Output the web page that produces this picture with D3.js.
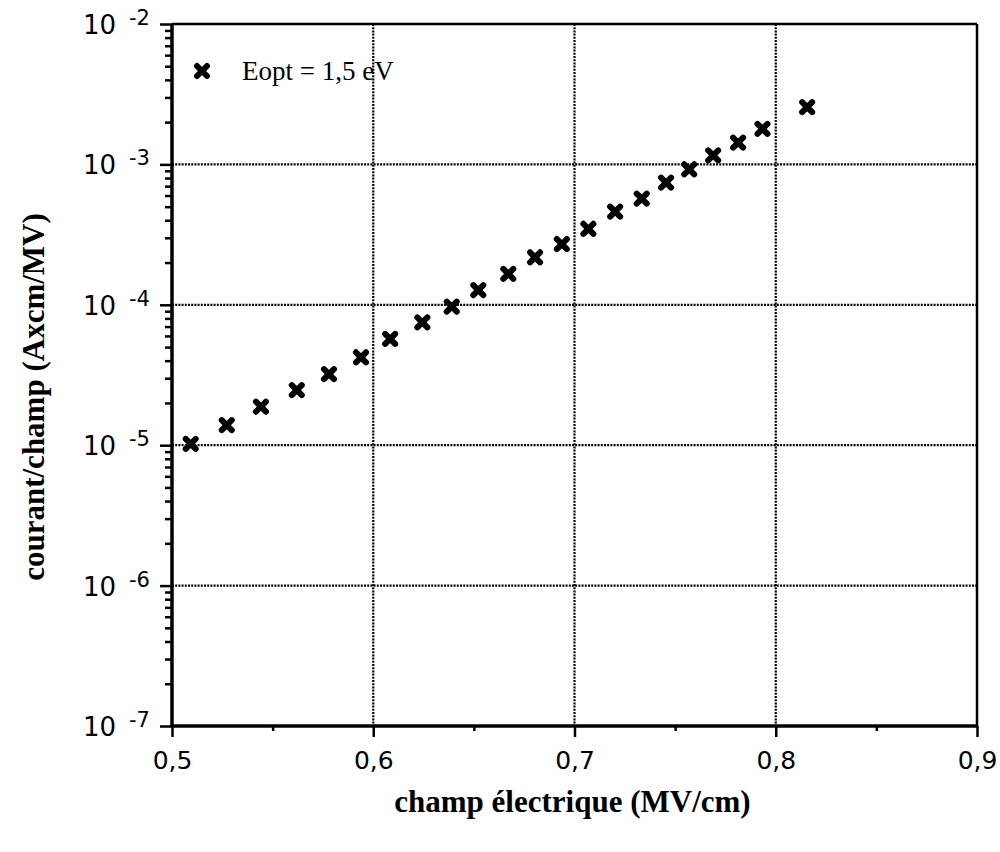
<!DOCTYPE html>
<html>
<head>
<meta charset="utf-8">
<script src="https://cdn.jsdelivr.net/npm/d3@7"></script>
<style>
  body { margin: 0; background: #fff; }
  svg { display: block; }
</style>
</head>
<body>
<div id="chart"></div>
<script>
const width = 1000;
const height = 852;
const margin = { top: 24, right: 23, bottom: 126, left: 172 };
const innerWidth = width - margin.left - margin.right;
const innerHeight = height - margin.top - margin.bottom;

// champ électrique (MV/cm)
const champ = [0.5093, 0.5272, 0.5442, 0.5620, 0.5780, 0.5939, 0.6084, 0.6244,
  0.6390, 0.6522, 0.6671, 0.6804, 0.6937, 0.7069, 0.7202, 0.7334, 0.7455,
  0.7570, 0.7689, 0.7813, 0.7934, 0.8156];
// courant/champ (Axcm/MV)
const courant = [1.02e-5, 1.39e-5, 1.88e-5, 2.47e-5, 3.21e-5, 4.23e-5, 5.71e-5,
  7.50e-5, 9.69e-5, 1.27e-4, 1.66e-4, 2.18e-4, 2.71e-4, 3.48e-4, 4.61e-4,
  5.70e-4, 7.41e-4, 9.23e-4, 1.16e-3, 1.43e-3, 1.79e-3, 2.56e-3];

const xTicks = [0.5, 0.6, 0.7, 0.8, 0.9];
const xMinor = [0.55, 0.65, 0.75, 0.85];
const yExponents = [-2, -3, -4, -5, -6, -7];
const legendLabel = "Eopt = 1,5 eV";

const points = champ.map((c, i) => ({ x: c, y: courant[i] }));

const x = d3.scaleLinear().domain([0.5, 0.9]).range([0, innerWidth]);
const y = d3.scaleLog().domain([1e-7, 1e-2]).range([innerHeight, 0]);

const yMinor = [];
for (let e = -7; e < -2; e++) {
  for (let k = 2; k <= 9; k++) yMinor.push(k * Math.pow(10, e));
}

const sans = "DejaVu Sans, Verdana, sans-serif";
const serif = "Liberation Serif, Times New Roman, serif";

const svg = d3.select("#chart").append("svg")
  .attr("width", width)
  .attr("height", height);

const g = svg.append("g")
  .attr("transform", `translate(${margin.left},${margin.top})`);

// dotted grid lines
const grid = g.append("g")
  .attr("stroke", "#000")
  .attr("stroke-width", 2.2)
  .attr("stroke-dasharray", "2,1.2");

grid.selectAll("line.vx")
  .data(xTicks.slice(1, -1))
  .join("line")
  .attr("class", "vx")
  .attr("x1", d => x(d)).attr("x2", d => x(d))
  .attr("y1", 0).attr("y2", innerHeight);

grid.selectAll("line.hy")
  .data(yExponents.slice(1, -1).map(e => Math.pow(10, e)))
  .join("line")
  .attr("class", "hy")
  .attr("x1", 0).attr("x2", innerWidth)
  .attr("y1", d => y(d)).attr("y2", d => y(d));

// x axis, major + minor ticks
const xAxis = g.append("g")
  .attr("transform", `translate(0,${innerHeight})`)
  .call(d3.axisBottom(x).tickValues(xTicks).tickSize(11).tickPadding(14)
    .tickFormat(d => d3.format(".1f")(d).replace(".", ",")));
g.append("g")
  .attr("transform", `translate(0,${innerHeight})`)
  .call(d3.axisBottom(x).tickValues(xMinor).tickSize(5).tickFormat(""))
  .call(a => a.select(".domain").remove());

xAxis.select(".domain").remove();
xAxis.selectAll("text")
  .attr("font-family", sans)
  .attr("font-size", 25)
  .attr("fill", "#000");

// y axis, major + minor ticks
const yAxis = g.append("g")
  .call(d3.axisLeft(y).tickValues(yExponents.map(e => Math.pow(10, e)))
    .tickSize(12).tickFormat(""));
yAxis.select(".domain").remove();
g.append("g")
  .call(d3.axisLeft(y).tickValues(yMinor).tickSize(7).tickFormat(""))
  .call(a => a.select(".domain").remove());

g.selectAll(".tick line").attr("stroke", "#000").attr("stroke-width", 2.5);

// "10 -n" labels
const yLabels = g.append("g")
  .attr("font-family", sans)
  .attr("fill", "#000");
const lab = yLabels.selectAll("g")
  .data(yExponents)
  .join("g")
  .attr("transform", d => `translate(0,${y(Math.pow(10, d))})`);
lab.append("text")
  .attr("x", -56)
  .attr("y", 10)
  .attr("text-anchor", "end")
  .attr("font-size", 26)
  .text("10");
lab.append("text")
  .attr("x", -43)
  .attr("y", 1)
  .attr("font-size", 21)
  .text(d => d);

// frame
g.append("line").attr("x1", 0).attr("x2", 0).attr("y1", 0).attr("y2", innerHeight)
  .attr("stroke", "#000").attr("stroke-width", 3.5);
g.append("line").attr("x1", 0).attr("x2", innerWidth).attr("y1", innerHeight).attr("y2", innerHeight)
  .attr("stroke", "#000").attr("stroke-width", 3.5);
g.append("line").attr("x1", 0).attr("x2", innerWidth).attr("y1", 0).attr("y2", 0)
  .attr("stroke", "#000").attr("stroke-width", 2.5);
g.append("line").attr("x1", innerWidth).attr("x2", innerWidth).attr("y1", 0).attr("y2", innerHeight)
  .attr("stroke", "#000").attr("stroke-width", 2.5);

// fat x markers
function marker(sel) {
  sel.append("path")
    .attr("d", "M-5,-5L5,5M-5,5L5,-5")
    .attr("stroke", "#000")
    .attr("stroke-width", 6)
    .attr("stroke-linecap", "round")
    .attr("fill", "none");
}

g.append("g")
  .selectAll("g.pt")
  .data(points)
  .join("g")
  .attr("class", "pt")
  .attr("transform", d => `translate(${x(d.x)},${y(d.y)})`)
  .call(marker);

// legend
const legend = g.append("g").attr("transform", "translate(30,47)");
legend.append("g").call(marker);
legend.append("text")
  .attr("x", 40)
  .attr("y", 9)
  .attr("font-family", serif)
  .attr("font-size", 27)
  .attr("fill", "#000")
  .text(legendLabel);

// axis titles
svg.append("text")
  .attr("x", margin.left + innerWidth / 2 - 2)
  .attr("y", 812)
  .attr("text-anchor", "middle")
  .attr("font-family", serif)
  .attr("font-weight", "bold")
  .attr("font-size", 31)
  .attr("fill", "#000")
  .text("champ électrique (MV/cm)");

svg.append("text")
  .attr("transform", `translate(44,${margin.top + innerHeight / 2 + 22}) rotate(-90)`)
  .attr("text-anchor", "middle")
  .attr("font-family", serif)
  .attr("font-weight", "bold")
  .attr("font-size", 31)
  .attr("fill", "#000")
  .text("courant/champ (Axcm/MV)");
</script>
</body>
</html>
